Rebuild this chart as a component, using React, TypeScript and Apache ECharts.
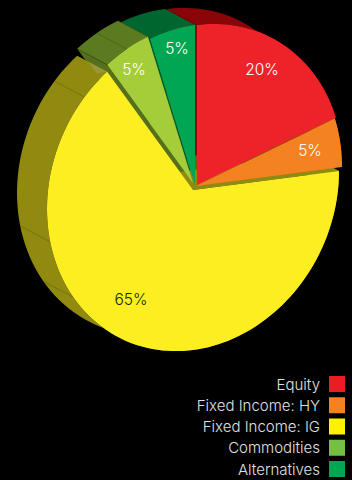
import React, { useEffect, useRef } from "react";
import * as echarts from "echarts";

// Portfolio allocation, drawn as an extruded, tilted pie.
const categories = ["Equity", "Fixed Income: HY", "Fixed Income: IG", "Commodities", "Alternatives"];
const shares = [20, 5, 65, 5, 5];
const shareLabels = ["20%", "5%", "65%", "5%", "5%"];
const legendColors = ["#ed1c24", "#f58220", "#fff200", "#76bf45", "#00a651"];
const faceColors = ["#ee232a", "#f58220", "#fdee21", "#a5cd39", "#00a651"];
const wallColors = ["#8a0508", "#7d5a10", "#918a10", "#5c7a20", "#00662f"];
const sideColors = ["#8f0a10", "#7d5a10", "#8f8a10", "#55701c", "#00602c"];
const labelColors = ["#ffffff", "#ffffff", "#1c1b08", "#ffffff", "#ffffff"];

// Where each slice's point sits once pulled out of the pie.
const apexes = [[197, 185], [196, 186], [193, 190], [193, 183], [195, 185]];
const labelCenters = [[262, 69], [310, 150], [131, 299], [134, 69], [177, 48]];
// Clockwise angles of the facet seams on the outer walls.
const seamAngles = [[], [], [312, 258, 235], [333], []];

// Screen vectors of the tilted disc's 12 o'clock and 3 o'clock radii, and the extrusion.
const UP = [0, -160];
const RIGHT = [146, -19];
const DEPTH = [-30, -16];

const total = shares.reduce((a, b) => a + b, 0);

function rimPoint(apex: number[], deg: number) {
  const r = (deg * Math.PI) / 180;
  const c = Math.cos(r);
  const s = Math.sin(r);
  return [apex[0] + UP[0] * c + RIGHT[0] * s, apex[1] + UP[1] * c + RIGHT[1] * s];
}

const shift = (p: number[]) => [p[0] + DEPTH[0], p[1] + DEPTH[1]];

function arc(apex: number[], from: number, to: number) {
  const pts: number[][] = [];
  const steps = Math.max(2, Math.ceil((to - from) / 2));
  for (let i = 0; i <= steps; i++) pts.push(rimPoint(apex, from + ((to - from) * i) / steps));
  return pts;
}

function sliceRenderer(index: number, wallOrder: number) {
  return (_params: any, api: any) => {
    const before = shares.slice(0, index).reduce((a, b) => a + b, 0);
    const from = (before / total) * 360;
    const to = from + (api.value(0) / total) * 360;
    const apex = apexes[index];
    const rim = arc(apex, from, to);
    const base = wallOrder * 10;
    const children: any[] = [];

    // Flat side at the slice's leading edge.
    const a = rim[0];
    children.push({
      type: "polygon",
      z2: base,
      shape: { points: [apex, a, shift(a), shift(apex)] },
      style: { fill: sideColors[index] },
    });

    // Outer wall, between the rim and the rim pushed back by the extrusion.
    children.push({
      type: "polygon",
      z2: base + 1,
      shape: { points: [...rim, ...rim.map(shift).reverse()] },
      style: { fill: wallColors[index] },
    });

    // Trailing side of the slice, which shows as a strip next to its neighbour.
    const b = rim[rim.length - 1];
    if (index === 3 || index === 0) {
      children.push({
        type: "polygon",
        z2: base - 1,
        shape: { points: [apex, b, shift(b), shift(apex)] },
        style: { fill: sideColors[index] },
      });
    }
    if (index === 2) {
      // Small visible corner of the big slice's trailing side.
      const q = [b[0] + DEPTH[0] * 0.63, b[1] + DEPTH[1] * 0.63];
      const inward = [(apex[0] - b[0]) * 0.1, (apex[1] - b[1]) * 0.1];
      children.push({
        type: "polygon",
        z2: base + 3,
        shape: { points: [b, q, [q[0] + inward[0], q[1] + inward[1]]] },
        style: { fill: "#9c9438" },
      });
    }

    // Seams across the wall and its end edges.
    const seamLine = (deg: number) => {
      const p = rimPoint(apex, deg);
      const t = shift(p);
      return {
        type: "line",
        z2: base + 2,
        shape: { x1: p[0], y1: p[1], x2: t[0], y2: t[1] },
        style: { stroke: "rgba(40,40,0,0.4)", lineWidth: 0.6 },
      };
    };
    seamAngles[index].forEach((d) => children.push(seamLine(d)));
    if (index >= 3) {
      children.push(seamLine(from));
      children.push(seamLine(to));
    }

    // Top face and its share label.
    children.push({
      type: "polygon",
      z2: 100 + wallOrder,
      shape: { points: [apex, ...rim] },
      style: { fill: faceColors[index] },
    });
    children.push({
      type: "text",
      z2: 200,
      style: {
        text: shareLabels[index],
        x: labelCenters[index][0],
        y: labelCenters[index][1],
        fill: labelColors[index],
        font: "300 15.5px Inter",
        align: "center",
        verticalAlign: "middle",
      },
    });
    return { type: "group", children };
  };
}

// Back-to-front stacking of the slices' walls and faces.
const stacking = [0, 1, 4, 3, 2];

export default function App() {
  const ref = useRef<HTMLDivElement>(null);

  useEffect(() => {
    document.body.style.margin = "0";
    document.body.style.background = "#000";
    const chart = echarts.init(ref.current!, undefined, { renderer: "svg" });
    chart.setOption({
      animation: false,
      backgroundColor: "#000000",
      legend: {
        orient: "vertical",
        right: 7,
        top: 376,
        padding: 0,
        align: "right",
        itemWidth: 16,
        itemHeight: 16,
        itemGap: 5.25,
        icon: "rect",
        selectedMode: false,
        textStyle: {
          color: "#e0e0e0",
          fontFamily: "Inter",
          fontWeight: 300,
          fontSize: 15,
          padding: [0, 4, 0, 0],
        },
        data: categories.map((name, i) => ({ name, itemStyle: { color: legendColors[i] } })),
      },
      series: categories.map((name, i) => ({
        type: "custom",
        name,
        coordinateSystem: "none",
        silent: true,
        data: [[shares[i]]],
        itemStyle: { color: legendColors[i] },
        renderItem: sliceRenderer(i, stacking.indexOf(i) + 1),
      })),
    });
    return () => chart.dispose();
  }, []);

  return <div ref={ref} style={{ position: "fixed", left: 0, top: 0, width: 352, height: 480 }} />;
}
